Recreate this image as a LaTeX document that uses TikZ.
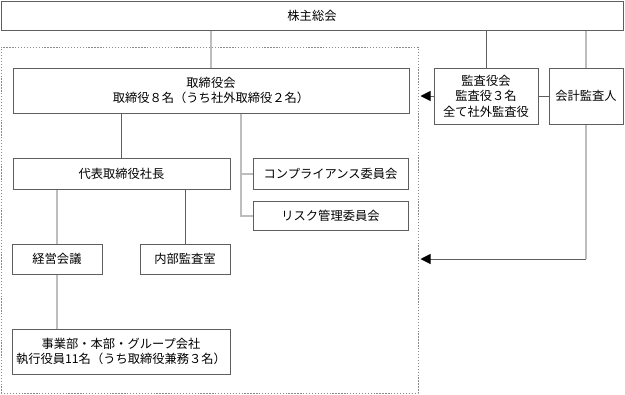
\documentclass[tikz,border=0pt]{standalone}
\usepackage{fontspec}
\setmainfont{Noto Sans CJK JP}
\usepackage{xcolor}
\usetikzlibrary{arrows.meta}
\definecolor{boxgray}{HTML}{5E5E5E}
\definecolor{linegray}{HTML}{BDBDBD}
\definecolor{dotgray}{HTML}{8A8A8A}

\begin{document}
\begin{tikzpicture}[
    x=0.75pt, y=-0.75pt,
    font=\fontsize{9.2}{11.6}\selectfont,
    orgbox/.style 2 args={
      draw=boxgray, line width=0.75pt, fill=white,
      inner sep=0pt, align=center,
      minimum width=#1*0.75pt, minimum height=#2*0.75pt
    },
    link/.style={draw=linegray, line width=1.5pt},
    thinlink/.style={draw=boxgray, line width=0.75pt},
    toarrow/.style={thinlink, -{Triangle[length=7.5pt,width=7.5pt,color=black]}}
  ]
  \useasboundingbox (0,0) rectangle (625,394);

  \node[draw=dotgray, line width=0.75pt, dash pattern=on 1pt off 1.2pt,
        inner sep=0pt, minimum width=417*0.75pt, minimum height=346*0.75pt]
    (group) at (209.5,220) {};

  \node[orgbox={622}{29}] (meeting) at (312,15.5) {株主総会};
  \node[orgbox={396}{45}] (board) at (211,90.5)
    {取締役会\\取締役８名（うち社外取締役２名）};
  \node[orgbox={104}{56}] (auditors) at (486,96)
    {監査役会\\監査役３名\\全て社外監査役};
  \node[orgbox={74}{56}] (accounting) at (586,96) {会計監査人};
  \node[orgbox={217}{31}] (president) at (121.5,173.5) {代表取締役社長};
  \node[orgbox={155}{31}] (compliance) at (330.5,173.5) {コンプライアンス委員会};
  \node[orgbox={155}{29}] (risk) at (330.5,215.5) {リスク管理委員会};
  \node[orgbox={90}{30}] (management) at (57,259) {経営会議};
  \node[orgbox={90}{30}] (internal) at (185,259) {内部監査室};
  \node[orgbox={218}{45}] (divisions) at (121,351.5)
    {事業部・本部・グループ会社\\執行役員11名（うち取締役兼務３名）};

  \coordinate (branch) at (241,113);

  \draw[link] (meeting.south -| board.north) -- (board.north);
  \draw[thinlink] (meeting.south -| auditors.north) -- (auditors.north);
  \draw[link] (meeting.south -| accounting.north) -- (accounting.north);
  \draw[thinlink] (auditors.east) -- (accounting.west);
  \draw[toarrow] (auditors.west) -- ([xshift=1.5pt]auditors.west -| group.east);
  \draw[link] (accounting.south) -- (accounting.south |- internal.east);
  \draw[toarrow] (accounting.south |- internal.east)
    -- ([xshift=1.5pt]internal.east -| group.east);

  \draw[thinlink] (board.south -| president.north) -- (president.north);
  \draw[link] (board.south -| branch) |- (risk.west);
  \draw[link] (compliance.west) -- (compliance.west -| branch);

  \draw[link] (president.south -| management.north) -- (management.north);
  \draw[thinlink] (president.south -| internal.north) -- (internal.north);
  \draw[link] (management.south) -- (divisions.north -| management.south);
\end{tikzpicture}
\end{document}
